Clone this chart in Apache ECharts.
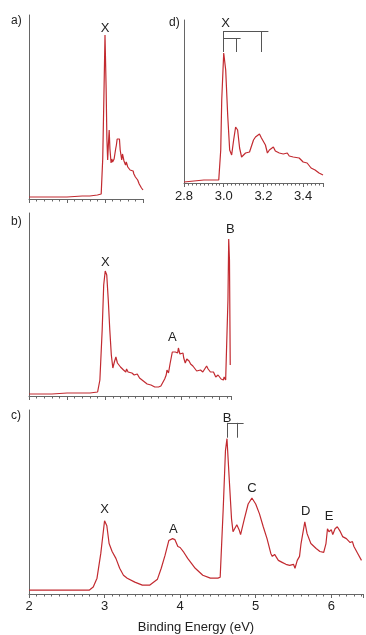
<!DOCTYPE html>
<html><head><meta charset="utf-8">
<script src="https://cdn.jsdelivr.net/npm/echarts@6/dist/echarts.min.js"></script>
<style>html,body{margin:0;padding:0;background:#fff}#c{width:366px;height:635px}</style>
</head><body><div id="c"></div>
<script>
// Panel a) spectrum [eV, intensity]
const specA = [[2.0,2],[2.3,2],[2.5,2],[2.7,3],[2.8,3],[2.9,4],[2.95,5],[2.97,40],[2.985,100],[3.0,164],[3.015,110],[3.025,60],[3.035,39],[3.045,55],[3.055,69],[3.065,50],[3.08,36],[3.09,40],[3.1,37],[3.12,40],[3.14,50],[3.15,54],[3.16,60],[3.17,62],[3.18,58],[3.19,60],[3.2,49],[3.21,44],[3.22,39],[3.23,45],[3.24,44],[3.25,38],[3.27,34],[3.28,37],[3.3,32],[3.32,33],[3.33,29],[3.35,27],[3.37,28],[3.38,25],[3.4,22],[3.42,23],[3.43,19],[3.45,15],[3.46,16],[3.48,11],[3.5,9]];
// Panel b)
const specB = [[2.0,2],[2.3,2],[2.5,3],[2.7,3],[2.8,3],[2.9,4],[2.93,16],[2.96,66],[2.98,111],[3.0,125],[3.02,121],[3.04,96],[3.06,66],[3.08,41],[3.1,28],[3.12,34],[3.14,39],[3.16,33],[3.17,34],[3.2,29],[3.22,31],[3.24,26],[3.25,28],[3.27,24],[3.28,27],[3.3,24],[3.32,26],[3.35,23],[3.37,24],[3.38,21],[3.4,20],[3.42,22],[3.45,18],[3.47,19],[3.5,15],[3.52,16],[3.55,12],[3.57,13],[3.6,11],[3.62,12],[3.65,9],[3.7,9],[3.73,10],[3.75,12],[3.78,17],[3.8,21],[3.81,26],[3.83,23],[3.85,32],[3.88,44],[3.89,42],[3.9,46],[3.92,44],[3.93,46],[3.95,43],[3.96,48],[3.98,42],[4.0,40],[4.02,43],[4.03,38],[4.05,33],[4.07,37],[4.08,35],[4.1,35],[4.12,32],[4.15,30],[4.17,31],[4.2,25],[4.22,27],[4.25,26],[4.28,24],[4.3,23],[4.33,30],[4.35,27],[4.38,24],[4.4,22],[4.42,24],[4.45,19],[4.48,21],[4.5,20],[4.52,17],[4.55,16],[4.56,19],[4.58,16],[4.6,18],[4.61,96],[4.62,157],[4.63,136],[4.64,31]];
// Panel c)
const specC = [[2.0,4],[2.3,4],[2.5,4],[2.7,4],[2.8,4],[2.85,7],[2.9,16],[2.95,41],[3.0,74],[3.03,69],[3.06,51],[3.1,43],[3.15,36],[3.2,26],[3.25,19],[3.3,16],[3.4,12],[3.5,9],[3.6,9],[3.7,15],[3.75,26],[3.8,39],[3.85,54],[3.9,56],[3.93,55],[3.97,48],[4.0,47],[4.05,42],[4.1,36],[4.2,26],[4.3,19],[4.4,16],[4.5,16],[4.53,17],[4.57,86],[4.6,145],[4.62,157],[4.65,116],[4.68,76],[4.7,63],[4.72,62],[4.75,70],[4.78,65],[4.8,60],[4.85,76],[4.9,91],[4.95,97],[5.0,91],[5.05,81],[5.1,68],[5.15,56],[5.2,41],[5.22,38],[5.25,40],[5.3,34],[5.35,32],[5.4,30],[5.45,29],[5.5,30],[5.52,26],[5.55,34],[5.58,38],[5.6,51],[5.65,73],[5.68,61],[5.7,62],[5.73,51],[5.75,50],[5.8,46],[5.85,43],[5.9,42],[5.93,51],[5.95,66],[5.97,63],[6.0,65],[6.02,60],[6.05,66],[6.08,68],[6.12,63],[6.15,58],[6.2,56],[6.22,58],[6.25,52],[6.28,53],[6.3,48],[6.35,41],[6.4,34]];
// Panel d) zoom of X band
const specD = [[2.8,1],[2.85,2],[2.9,3],[2.95,3],[2.975,3],[2.985,33],[2.99,83],[3.0,130],[3.01,113],[3.02,68],[3.03,33],[3.04,28],[3.05,43],[3.06,56],[3.07,53],[3.08,35],[3.09,26],[3.1,28],[3.11,30],[3.12,28],[3.13,31],[3.14,31],[3.15,43],[3.16,46],[3.17,45],[3.18,49],[3.19,45],[3.2,43],[3.21,38],[3.22,30],[3.23,33],[3.24,34],[3.25,36],[3.26,32],[3.27,33],[3.28,30],[3.3,29],[3.31,31],[3.32,30],[3.33,27],[3.35,26],[3.36,28],[3.38,25],[3.39,26],[3.4,21],[3.41,23],[3.42,20],[3.43,18],[3.44,15],[3.45,16],[3.46,13],[3.47,14],[3.48,10],[3.5,8]];
// Peak labels [eV, intensity, text]
const labelsA = [[3.0,171,'X']];
const labelsB = [[3.0,134,'X'],[3.88,59,'A'],[4.64,167,'B']];
const labelsC = [[3.0,85,'X'],[3.91,65,'A'],[4.62,177,'B'],[4.95,107,'C'],[5.66,83,'D'],[5.97,78,'E']];
const labelsD = [[3.01,160,'X']];
// Bracket segments [x1,y1,x2,y2]
const bracketsD = [[3.0,152,3.225,152],[3.0,152,3.0,131],[3.19,152,3.19,131],[3.0,145,3.085,145],[3.063,145,3.063,131]];
const bracketsC = [[4.62,173,4.84,173],[4.62,173,4.62,158],[4.76,173,4.76,158]];
const xTicksC = ['2','3','4','5','6'];
const xTicksD = ['2.8','3.0','3.2','3.4'];

const RED = '#c22a30', AX = '#666', FONT = 'Liberation Sans';
const chart = echarts.init(document.getElementById('c'));
function mp(list){return {symbol:'rect',symbolSize:1,itemStyle:{color:'rgba(0,0,0,0)'},silent:true,
  label:{show:true,position:'inside',formatter:p=>p.name,color:'#222',fontSize:13,fontFamily:FONT},
  data:list.map(l=>({name:l[2],coord:[l[0],l[1]]}))};}
function ml(list){return {symbol:['none','none'],silent:true,label:{show:false},
  lineStyle:{color:'#555',width:1,type:'solid'},emphasis:{disabled:true},
  data:list.map(b=>[{coord:[b[0],b[1]]},{coord:[b[2],b[3]]}])};}
function xa(gi,min,max,interval,split,labels,fmt){return {type:'value',gridIndex:gi,min:min,max:max,interval:interval,
  axisLine:{show:true,onZero:false,lineStyle:{color:AX,width:1}},
  axisTick:{show:true,length:4,inside:false,lineStyle:{color:AX}},
  minorTick:{show:true,splitNumber:split,length:2.5,lineStyle:{color:AX}},
  splitLine:{show:false},
  axisLabel:{show:labels,color:'#222',fontSize:13,fontFamily:FONT,margin:6,formatter:fmt}};}
function ya(gi,max){return {type:'value',gridIndex:gi,min:0,max:max,
  axisLine:{show:true,lineStyle:{color:AX,width:1}},axisTick:{show:false},axisLabel:{show:false},splitLine:{show:false}};}
function ser(gi,data,lab,br){const s={type:'line',xAxisIndex:gi,yAxisIndex:gi,data:data,showSymbol:false,symbol:'none',
  lineStyle:{color:RED,width:1.2},itemStyle:{color:RED},silent:true,markPoint:mp(lab)};
  if(br) s.markLine=ml(br); return s;}
const xaC = xa(2,2,6.42,1,10,true,v=>xTicksC.indexOf(String(v))>=0?String(v):'');
xaC.name='Binding Energy (eV)'; xaC.nameLocation='middle'; xaC.nameGap=27;
xaC.nameTextStyle={color:'#222',fontSize:13,fontFamily:FONT};
const xaD = xa(3,2.8,3.5,0.2,10,true,v=>{const t=v.toFixed(1);return xTicksD.indexOf(t)>=0&&v<3.45?t:'';});
xaD.axisLabel.margin=7; xaD.axisLabel.showMaxLabel=false;
chart.setOption({
  animation:false,
  grid:[{left:29,top:15,width:114,height:184},{left:29,top:213,width:202,height:183},{left:29,top:410,width:336,height:186},{left:184,top:20,width:139,height:163}],
  xAxis:[xa(0,2,3.5,0.5,5,false),xa(1,2,4.65,0.5,5,false),xaC,xaD],
  yAxis:[ya(0,184),ya(1,183),ya(2,186),ya(3,163)],
  graphic:[
    {type:'text',left:11,top:15,style:{text:'a)',fontSize:12,fontFamily:FONT,fill:'#222'}},
    {type:'text',left:11,top:216,style:{text:'b)',fontSize:12,fontFamily:FONT,fill:'#222'}},
    {type:'text',left:11,top:410,style:{text:'c)',fontSize:12,fontFamily:FONT,fill:'#222'}},
    {type:'text',left:169,top:17,style:{text:'d)',fontSize:12,fontFamily:FONT,fill:'#222'}}
  ],
  series:[ser(0,specA,labelsA),ser(1,specB,labelsB),ser(2,specC,labelsC,bracketsC),ser(3,specD,labelsD,bracketsD)]
});
</script></body></html>
